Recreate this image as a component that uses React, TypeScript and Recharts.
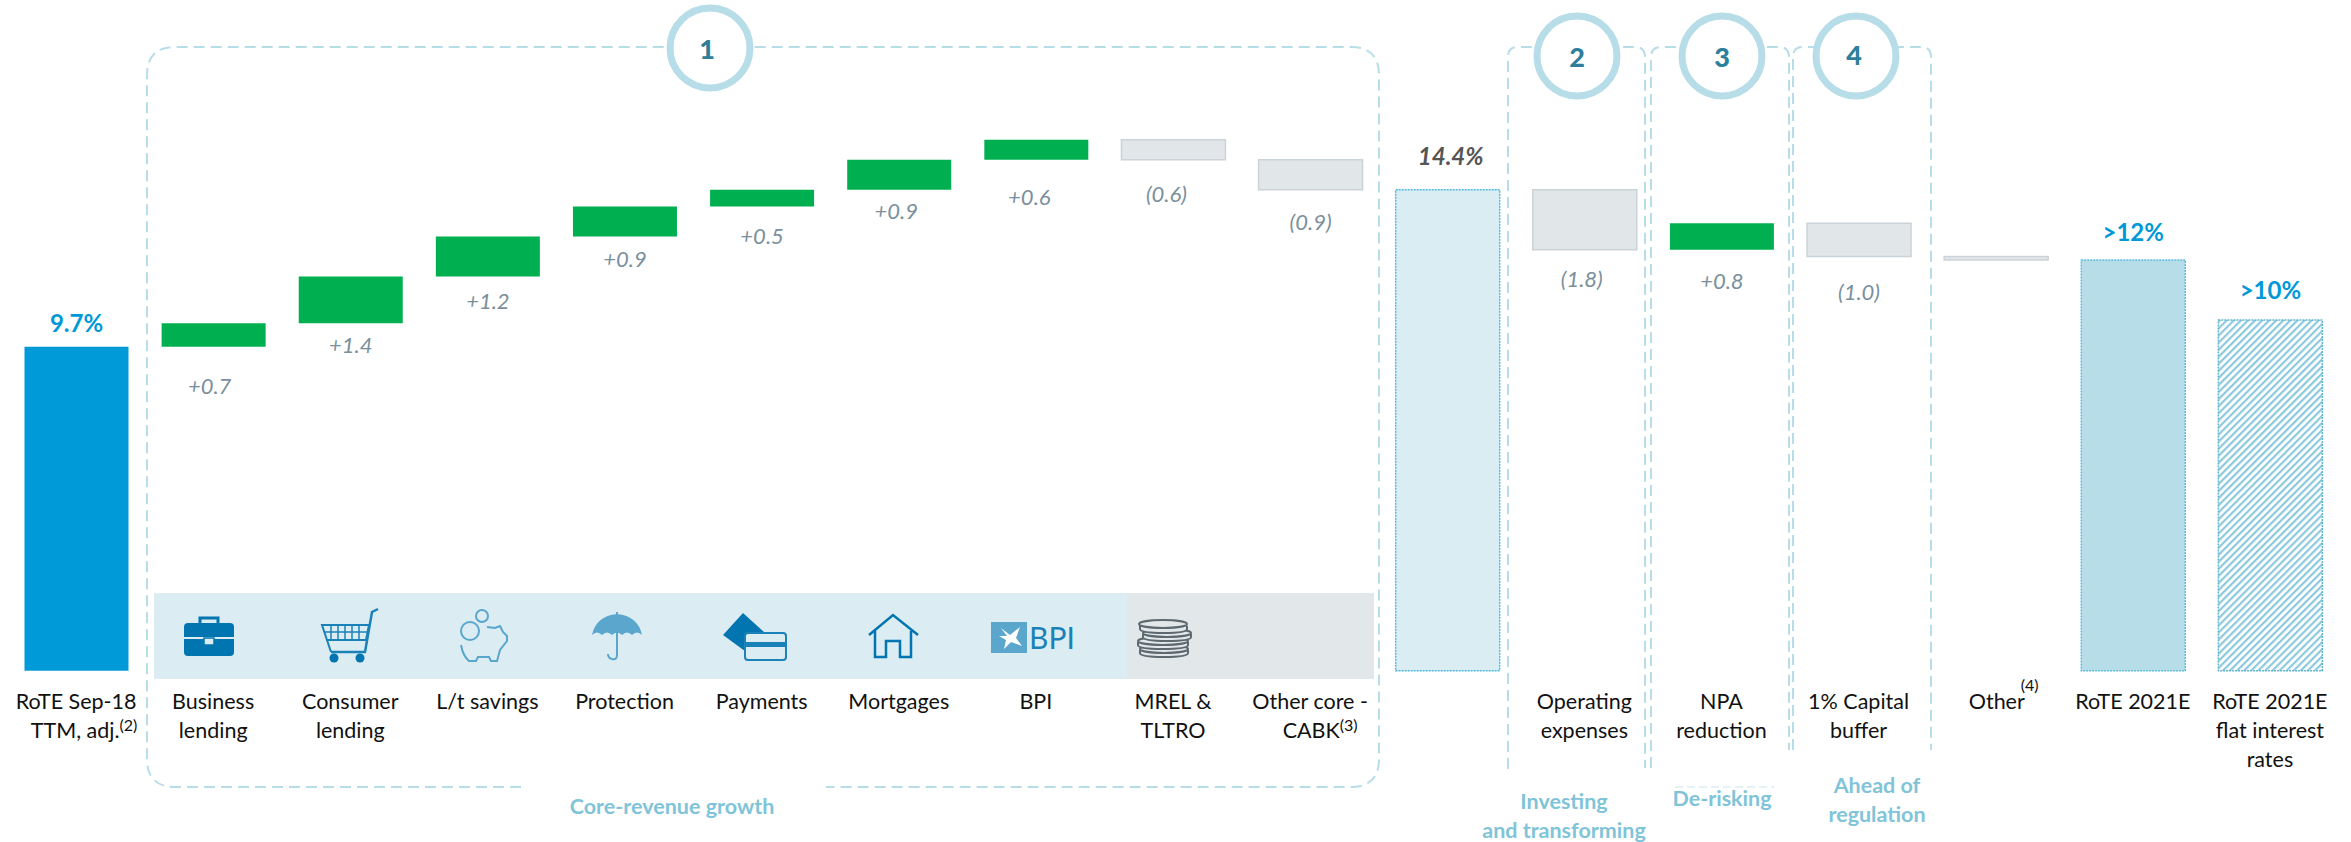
import React from 'react';
import { BarChart, Bar, XAxis, YAxis, Cell, LabelList } from 'recharts';

// one line per \n, ^ starts the footnote mark
const categories = [
  'RoTE Sep-18\nTTM, adj.^(2)', 'Business\nlending', 'Consumer\nlending', 'L/t savings', 'Protection',
  'Payments', 'Mortgages', 'BPI', 'MREL &\nTLTRO', 'Other core -\nCABK^(3)', 'Subtotal',
  'Operating\nexpenses', 'NPA\nreduction', '1% Capital\nbuffer', 'Other^(4)', 'RoTE 2021E',
  'RoTE 2021E\nflat interest\nrates',
];
const bases = [0, 9.7, 10.4, 11.8, 13.0, 13.9, 14.4, 15.3, 15.3, 14.4, 0, 12.6, 12.6, 12.4, 12.3, 0, 0];
const deltas = [9.7, 0.7, 1.4, 1.2, 0.9, 0.5, 0.9, 0.6, 0.6, 0.9, 14.4, 1.8, 0.8, 1.0, 0.1, 12.3, 10.5];
const barKinds = ['start', 'up', 'up', 'up', 'up', 'up', 'up', 'up', 'down', 'down', 'sub', 'down', 'up', 'down', 'down', 'end', 'flat'];
const valueLabels = ['9.7%', '+0.7', '+1.4', '+1.2', '+0.9', '+0.5', '+0.9', '+0.6', '(0.6)', '(0.9)', '14.4%', '(1.8)', '+0.8', '(1.0)', '', '>12%', '>10%'];

// distance of each value label from its bar (below for deltas, above for totals), and sideways nudge
const labelGaps = [24, 39, 21, 24, 22, 29, 21, 37, 34, 32, 34, 29, 31, 35, 0, 28, 31];
const labelNudge = [0, -4, 0, 0, 0, 0, -3, -7, -7, 0, 3, -3, 0, 0, 0, 0, 0];
const lineNudge: Record<string, number> = { 'TTM, adj.^(2)': 8, 'CABK^(3)': 10, 'Other^(4)': 8 };

const FONT = 'Lato, "Open Sans", sans-serif';
const FRAME = '#b7dde8';
const NOTE = '#7fc4d8';

const barStyles: Record<string, any> = {
  start: { fill: '#009ad9' },
  up: { fill: '#00b050' },
  down: { fill: '#e1e6e9', stroke: '#ccd3d8', strokeWidth: 1.5 },
  sub: { fill: '#daedf3', stroke: '#4fb8dc', strokeWidth: 1.5, strokeDasharray: '2 1' },
  end: { fill: '#b7dde8', stroke: '#5fbcdc', strokeWidth: 1.5, strokeDasharray: '2 1' },
  flat: { fill: 'url(#hatch)', stroke: '#5fb4cf', strokeWidth: 1.5, strokeDasharray: '2 1' },
};

const data = categories.map((name, i) => ({ name, base: bases[i], delta: deltas[i] }));

const CategoryTick = (props: any) => {
  const { x, y, payload } = props;
  const lines: string[] = String(payload.value).split('\n');
  if (payload.value === 'Subtotal') return null;
  return (
    <text textAnchor="middle" fontFamily={FONT} fontSize={21.5} fill="#111">
      {lines.map((line, i) => {
        const [main, sup] = line.split('^');
        const high = main === 'Other';
        return (
          <tspan key={line} x={x + (lineNudge[line] || 0)} y={y + 30 + i * 29}>
            {main}
            {sup && (
              <tspan fontSize={16} dx={high ? -4 : 0} dy={high ? -18 : -7}>{sup}</tspan>
            )}
          </tspan>
        );
      })}
    </text>
  );
};

const ValueLabel = (props: any) => {
  const { x, y, width, height, index } = props;
  const text = valueLabels[index];
  if (!text) return null;
  const kind = barKinds[index];
  const total = kind === 'start' || kind === 'sub' || kind === 'end' || kind === 'flat';
  const cx = x + width / 2 + labelNudge[index];
  const cy = total ? y - labelGaps[index] : y + height + labelGaps[index];
  return (
    <text
      x={cx}
      y={cy}
      textAnchor="middle"
      dominantBaseline="central"
      fontFamily={FONT}
      fontSize={total ? 24 : 22}
      fontWeight={total ? 700 : 400}
      fontStyle={kind === 'up' || kind === 'down' || kind === 'sub' ? 'italic' : 'normal'}
      fill={kind === 'sub' ? '#555' : total ? '#0099d8' : '#7a8f9c'}
    >
      {text}
    </text>
  );
};

const dash = { fill: 'none', stroke: FRAME, strokeWidth: 2, strokeDasharray: '11 6' };

const Frames = () => (
  <g>
    <path {...dash} d="M521 787 H175 Q147 787 147 759 V75 Q147 47 175 47 H1351 Q1379 47 1379 75 V759 Q1379 787 1351 787 H826" />
    <path {...dash} d="M1508 769 V57 Q1508 47 1518 47 H1635 Q1645 47 1645 57 V768" />
    <path {...dash} d="M1651 768 V57 Q1651 47 1661 47 H1779 Q1789 47 1789 57 V750" />
    <path {...dash} d="M1793 750 V57 Q1793 47 1803 47 H1921 Q1931 47 1931 57 V750" />
    <path fill="none" stroke="#e4f2f6" strokeWidth={2} strokeDasharray="8 4" d="M1675 787 H1774" />
  </g>
);

const badges = [
  { n: '1', cx: 710, cy: 48, tx: 707, ty: 48 },
  { n: '2', cx: 1577, cy: 56, tx: 1577, ty: 56 },
  { n: '3', cx: 1722, cy: 56, tx: 1722, ty: 56 },
  { n: '4', cx: 1856, cy: 56, tx: 1854, ty: 54 },
];

const Badges = () => (
  <g>
    {badges.map(b => (
      <g key={b.n}>
        <circle cx={b.cx} cy={b.cy} r={40} fill="#fff" stroke={FRAME} strokeWidth={7} />
        <text x={b.tx} y={b.ty} textAnchor="middle" dominantBaseline="central" fontFamily={FONT} fontWeight={900} fontSize={27} fill="#2e7f9c">{b.n}</text>
      </g>
    ))}
  </g>
);

const notes = [
  { lines: ['Core-revenue growth'], x: 672, y: 806 },
  { lines: ['Investing', 'and transforming'], x: 1564, y: 801 },
  { lines: ['De-risking'], x: 1722, y: 798 },
  { lines: ['Ahead of', 'regulation'], x: 1877, y: 785 },
];

const Notes = () => (
  <g>
    {notes.map(n => n.lines.map((line, i) => (
      <text key={line} x={n.x} y={n.y + i * 28.5} textAnchor="middle" dominantBaseline="central" fontFamily={FONT} fontWeight={700} fontSize={21.5} fill={NOTE}>{line}</text>
    )))}
  </g>
);

const BLUE = '#0075b0';
const MID = '#5aa6cd';

const IconBand = () => (
  <g>
    <rect x={154} y={593} width={973} height={86} fill="#dbedf3" />
    <rect x={1127} y={593} width={247} height={86} fill="#e2e7ea" />

    {/* briefcase */}
    <rect x={184} y={623} width={50} height={33} rx={4} fill={BLUE} />
    <rect x={200} y={618} width={18} height={7} fill="none" stroke={BLUE} strokeWidth={3} />
    <line x1={184} x2={234} y1={638} y2={638} stroke="#dbedf3" strokeWidth={2} />
    <rect x={204} y={638} width={10} height={7} fill="#dbedf3" stroke={BLUE} strokeWidth={1.5} />

    {/* cart */}
    <g fill="none" stroke="#1a82b8" strokeWidth={2}>
      <path d="M378 609 L372 612 L365 652 H331" strokeWidth={2.5} />
      <path d="M322 625 H369 L366 640 H327 Z" />
      <path d="M324 632 H368 M331 625 V640 M338 625 V640 M345 625 V640 M352 625 V640 M359 625 V640" strokeWidth={1.5} />
      <path d="M327 640 L331 652" />
    </g>
    <circle cx={334} cy={658} r={4.5} fill={BLUE} />
    <circle cx={360} cy={658} r={4.5} fill={BLUE} />

    {/* piggy bank */}
    <g fill="none" stroke={MID} strokeWidth={2}>
      <circle cx={482} cy={616} r={6} />
      <circle cx={470} cy={631} r={9} />
      <path d="M461 645 Q463 656 469 661 H476 L478 657 H489 L491 661 H497 L500 650 L507 641 V636 L503 632 L500 626 L495 628 L487 627" />
    </g>

    {/* umbrella */}
    <path d="M592 635 Q596 616 617 614 Q638 616 642 635 Q637 630 632 635 Q627 630 622 635 Q617 630 612 635 Q607 630 602 635 Q597 630 592 635 Z" fill={MID} />
    <path d="M617 612 V655 Q617 660 612 659 Q608 658 608 654" fill="none" stroke={MID} strokeWidth={2} />

    {/* payments */}
    <path d="M723 635 L743 613 L764 632 H749 V654 Z" fill={BLUE} />
    <rect x={745} y={633} width={41} height={27} rx={3} fill="#dbedf3" stroke="#1a82b8" strokeWidth={2} />
    <rect x={745} y={642} width={41} height={5} fill="#1a82b8" />

    {/* house */}
    <path d="M869 635 L893 615 L918 635 M875 631 V657 H886 V641 H900 V657 H911 V631" fill="none" stroke={BLUE} strokeWidth={2.5} />

    {/* BPI */}
    <rect x={991} y={622} width={36} height={31} fill={MID} />
    <path d="M1001 628 L1010 635 L1020 627 L1016 638 L1022 646 L1011 642 L1004 649 L1006 640 L999 636 L1007 636 Z" fill="#fff" />
    <text x={1029} y={637} dominantBaseline="central" fontFamily={FONT} fontSize={30} fill="#1a82b8">BPI</text>

    {/* coins */}
    <g fill="#e2e7ea" stroke="#5e6a70" strokeWidth={2}>
      <path d="M1140 650 V653 Q1140 657 1164 657 Q1188 657 1188 653 V650" />
      <ellipse cx={1164} cy={649} rx={24} ry={4} />
      <path d="M1138 642 V645 Q1138 649 1162 649 Q1188 649 1188 645 V642" />
      <ellipse cx={1163} cy={641} rx={25} ry={4} />
      <path d="M1143 634 V637 Q1143 641 1167 641 Q1191 641 1191 637 V634" />
      <ellipse cx={1167} cy={633} rx={24} ry={4} />
      <path d="M1140 626 V629 Q1140 633 1164 633 Q1187 633 1187 629 V626" />
      <ellipse cx={1163} cy={624} rx={24} ry={4} />
    </g>
  </g>
);

export default function App() {
  return (
    <div style={{ position: 'absolute', left: 0, top: 0, width: 2351, height: 842, background: '#fff' }}>
      <BarChart
        width={2351}
        height={842}
        data={data}
        barSize={104}
        margin={{ top: 2.7, right: 12.5, bottom: 0, left: 7.5 }}
      >
        <defs>
          <pattern id="hatch" width="5" height="5" patternUnits="userSpaceOnUse" patternTransform="rotate(45)">
            <rect width="5" height="5" fill="#fff" />
            <rect width="2.2" height="5" fill="#8cc9dc" />
          </pattern>
        </defs>
        <IconBand />
        <Frames />
        <XAxis
          dataKey="name"
          interval={0}
          axisLine={false}
          tickLine={false}
          height={171.3}
          tick={<CategoryTick />}
        />
        <YAxis hide domain={[0, 20]} />
        <Bar dataKey="base" stackId="w" fill="none" isAnimationActive={false} />
        <Bar dataKey="delta" stackId="w" isAnimationActive={false}>
          {barKinds.map((kind, i) => (
            <Cell key={i} {...barStyles[kind]} />
          ))}
          <LabelList dataKey="delta" content={<ValueLabel />} />
        </Bar>
        <Badges />
        <Notes />
      </BarChart>
    </div>
  );
}
